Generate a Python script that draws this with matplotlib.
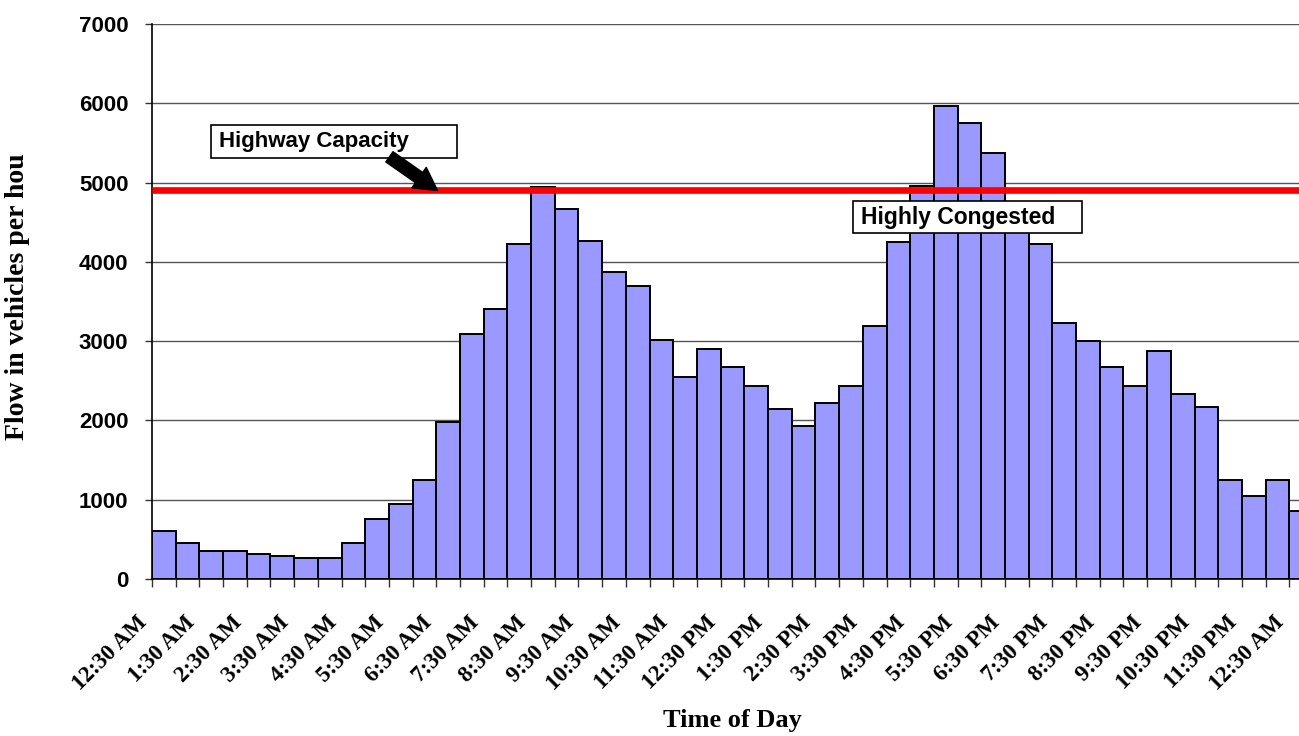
import numpy as np
import matplotlib.pyplot as plt
from matplotlib.patches import Rectangle
from matplotlib.transforms import ScaledTranslation

# half-hour flow counts, 12:30 AM through 12:30 AM next day
flow = [600, 460, 350, 350, 320, 290, 265, 265, 460, 760,
        950, 1250, 1975, 3090, 3410, 4230, 4950, 4665, 4265, 3875,
        3690, 3010, 2545, 2900, 2680, 2440, 2145, 1925, 2220, 2440,
        3195, 4255, 4960, 5970, 5750, 5375, 4450, 4230, 3230, 3005,
        2680, 2440, 2875, 2335, 2175, 1250, 1050, 1250, 860]
hour_labels = ['12:30 AM', '1:30 AM', '2:30 AM', '3:30 AM', '4:30 AM', '5:30 AM',
               '6:30 AM', '7:30 AM', '8:30 AM', '9:30 AM', '10:30 AM', '11:30 AM',
               '12:30 PM', '1:30 PM', '2:30 PM', '3:30 PM', '4:30 PM', '5:30 PM',
               '6:30 PM', '7:30 PM', '8:30 PM', '9:30 PM', '10:30 PM', '11:30 PM',
               '12:30 AM']
capacity = 4900

sans = 'Liberation Sans'
serif = 'Liberation Serif'

fig = plt.figure(figsize=(12.99, 7.36), dpi=100)
# plot area runs past the right edge of the picture, like the original crop
ax = fig.add_axes([152 / 1299, 1 - 579 / 736, (1313 - 152) / 1299, (579 - 24) / 736])

x = np.arange(len(flow))
ax.bar(x, flow, width=1.0, color='#9999ff', edgecolor='black', linewidth=1.4, zorder=2)
ax.set_xlim(-0.5, len(flow) - 0.5)
ax.set_ylim(0, 7000)

ax.set_yticks(np.arange(0, 7001, 1000))
ax.set_yticklabels([str(v) for v in range(0, 7001, 1000)],
                   fontfamily=sans, fontweight='bold', fontsize=16)
ax.yaxis.grid(True, color='#555555', linewidth=1.0, zorder=0)
ax.set_axisbelow(True)

# ticks on every bar boundary, labels every hour
ax.set_xticks(np.arange(len(flow) + 1) - 0.5)
ax.set_xticklabels([])
ax.tick_params(axis='x', length=6, width=1, color='#333333')
ax.tick_params(axis='y', length=5, width=1, color='#333333', pad=12)
off = ScaledTranslation(-0.08, -0.40, fig.dpi_scale_trans)
for i, lab in enumerate(hour_labels):
    ax.text(2 * i - 0.5, 0, lab, transform=ax.get_xaxis_transform() + off,
            rotation=45, rotation_mode='anchor', ha='right', va='center',
            fontfamily=serif, fontweight='bold', fontsize=16.5, clip_on=False)

for s in ['top', 'right']:
    ax.spines[s].set_visible(False)
ax.spines['left'].set_linewidth(1.2)
ax.spines['bottom'].set_linewidth(1.2)

# capacity line
ax.plot([-0.5, len(flow) - 0.5], [capacity, capacity], color='red', linewidth=4.8,
        solid_capstyle='butt', zorder=4)

# text boxes
ax.add_patch(Rectangle((2.01, 5305), 12.39 - 2.01, 5725 - 5305, facecolor='white',
                       edgecolor='black', linewidth=1.2, zorder=5))
ax.text(2.32, 5515, 'Highway Capacity', ha='left', va='center', fontfamily=sans,
        fontweight='bold', fontsize=16, zorder=6)
ax.annotate('', xy=(11.55, capacity), xytext=(9.52, 5325),
            arrowprops=dict(arrowstyle='simple,head_width=1.0,head_length=0.9,tail_width=0.5',
                            color='black', mutation_scale=18, shrinkA=0, shrinkB=0),
            zorder=6)

ax.add_patch(Rectangle((29.07, 4359), 38.74 - 29.07, 4770 - 4359, facecolor='white',
                       edgecolor='black', linewidth=1.2, zorder=5))
ax.text(29.41, 4565, 'Highly Congested', ha='left', va='center', fontfamily=sans,
        fontweight='bold', fontsize=16.5, zorder=6)

fig.text(18 / 1299, 1 - 297 / 736, 'Flow in vehicles per hou', rotation=90,
         ha='center', va='center', fontfamily=serif, fontweight='bold', fontsize=20)
fig.text(732 / 1299, 1 - 721 / 736, 'Time of Day', ha='center', va='center',
         fontfamily=serif, fontweight='bold', fontsize=19)

fig.savefig('out.png', dpi=100)
